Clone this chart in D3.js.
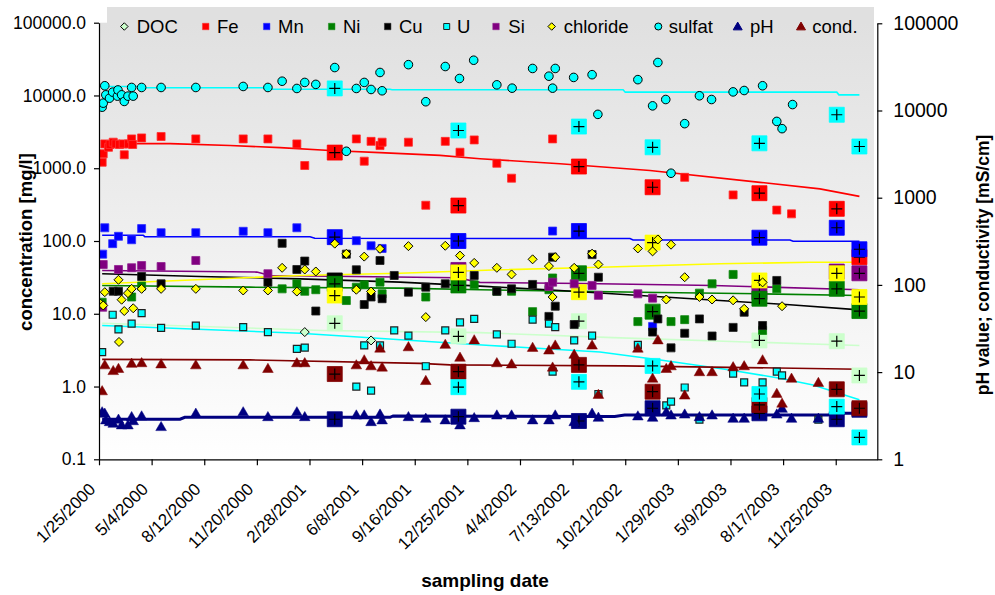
<!DOCTYPE html>
<html>
<head>
<meta charset="utf-8">
<script src="https://cdn.jsdelivr.net/npm/d3@7"></script>
<style>
  body { margin: 0; background: #fff; }
  svg { display: block; font-family: "Liberation Sans", Arial, Helvetica, sans-serif; }
</style>
</head>
<body>
<svg id="chart" width="995" height="595"></svg>
<script>
// ---------- tick labels ----------
const xTickLabels = ["1/25/2000","5/4/2000","8/12/2000","11/20/2000","2/28/2001","6/8/2001","9/16/2001",
  "12/25/2001","4/4/2002","7/13/2002","10/21/2002","1/29/2003","5/9/2003","8/17/2003","11/25/2003"];
const leftTicks = [0.1, 1, 10, 100, 1000, 10000, 100000];
const rightTicks = [1, 10, 100, 1000, 10000, 100000];
const legendNames = ["DOC","Fe","Mn","Ni","Cu","U","Si","chloride","sulfat","pH","cond."];

// ---------- monitoring well samples [date, value] ----------
const DOC = [["2001-02-19",5.6],["2001-06-25",4.3]];
const Fe = [["2000-01-31",1210],["2000-02-02",1580],["2000-02-05",2160],["2000-02-12",1940],["2000-02-15",2120],
  ["2000-02-21",2280],["2000-02-26",2160],["2000-03-04",2120],["2000-03-11",2160],["2000-03-13",1530],
  ["2000-03-21",2160],["2000-03-27",2530],["2000-03-29",2120],["2000-04-15",2610],["2000-05-22",2730],
  ["2000-07-27",2530],["2000-10-25",2530],["2000-12-11",2530],["2001-02-04",2160],["2001-02-19",1090],
  ["2001-05-28",2530],["2001-06-12",1250],["2001-06-25",2340],["2001-07-12",2050],["2001-07-16",2280],
  ["2001-09-04",2280],["2001-10-07",310],["2001-11-13",2340],["2001-12-11",1660],["2002-01-07",2450],
  ["2002-02-19",1170],["2002-03-19",730],["2002-06-05",2530],["2003-02-11",750],["2003-05-14",430],
  ["2003-08-05",266],["2003-09-02",236]];
const Mn = [["2000-02-01",66],["2000-02-05",152],["2000-02-20",92],["2000-03-02",116],["2000-03-27",104],
  ["2000-04-15",148],["2000-05-22",130],["2000-07-27",130],["2000-10-25",136],["2000-12-11",130],
  ["2001-02-04",152],["2001-05-28",101],["2001-06-25",86],["2001-07-16",79],["2002-06-05",137],["2002-12-12",6.7]];
const Ni = [["2000-01-31",14.4],["2000-03-27",17],["2000-04-15",24],["2001-01-07",22],["2001-02-04",25.8],
  ["2001-02-19",20.4],["2001-03-12",21.4],["2001-05-09",15.2],["2001-05-28",23.2],["2001-06-12",25],
  ["2001-07-12",27.2],["2001-07-16",18.8],["2001-10-07",17],["2002-01-07",25],["2002-02-19",20.4],
  ["2002-03-19",20.4],["2002-04-28",10.7],["2002-05-29",21.4],["2002-06-05",31],["2002-11-14",7.8],
  ["2003-01-16",7.8],["2003-02-11",8.3],["2003-03-11",19.2],["2003-04-04",25.8],["2003-05-14",34.7],
  ["2003-07-09",5.9],["2003-08-05",22]];
const Cu = [["2000-02-21",20.4],["2000-03-02",20.4],["2000-04-15",32.5],["2000-05-22",25.8],["2000-12-11",27.2],
  ["2001-01-07",93],["2001-02-04",40.6],["2001-02-19",53],["2001-03-12",10.9],["2001-05-09",66],
  ["2001-05-28",40.2],["2001-06-12",13.4],["2001-06-25",17],["2001-07-12",54],["2001-07-16",16.1],
  ["2001-08-08",33.6],["2001-09-04",19.8],["2001-10-07",23.2],["2001-11-13",25.8],["2002-01-07",33.6],
  ["2002-02-19",20.4],["2002-03-19",22],["2002-04-28",25.3],["2002-05-29",9.2],["2002-06-05",60],
  ["2002-06-10",12.7],["2002-07-16",7.1],["2002-08-19",65],["2002-08-31",31.8],["2002-12-12",5.6],
  ["2002-12-22",8.5],["2003-01-16",3.4],["2003-02-11",5.4],["2003-03-11",8.5],["2003-04-04",4.95],
  ["2003-05-14",6.5],["2003-06-04",10.5],["2003-07-09",6.9],["2003-08-05",28.7]];
const U = [["2000-01-31",2.97],["2000-02-20",9.7],["2000-03-02",6.1],["2000-03-27",7.3],["2000-04-15",10.2],
  ["2000-05-22",6.4],["2000-07-27",6.85],["2000-10-25",6.55],["2000-12-11",5.6],["2001-02-04",3.3],
  ["2001-02-19",3.43],["2001-05-28",1.0],["2001-06-12",3.67],["2001-06-25",0.88],["2001-07-12",3.67],
  ["2001-08-08",5.9],["2001-09-04",5.0],["2001-10-07",1.9],["2001-11-13",5.9],["2001-12-11",7.6],
  ["2002-01-07",8.5],["2002-02-19",5.2],["2002-03-19",3.87],["2002-04-28",8.3],["2002-05-29",7.3],
  ["2002-06-05",1.6],["2002-06-10",6.55],["2002-07-16",4.3],["2002-08-19",5.0],["2002-08-31",0.79],
  ["2002-11-14",3.74],["2003-01-07",0.55],["2003-01-16",0.62],["2003-02-11",0.97],["2003-03-11",0.35],
  ["2003-05-14",1.5],["2003-06-04",1.14],["2003-07-09",1.14],["2003-08-05",1.6],["2003-08-15",1.42],
  ["2003-10-23",0.35]];
const Si = [["2000-02-01",12.3],["2000-02-02",47.5],["2000-03-02",40.6],["2000-03-27",42.9],["2000-04-15",46],
  ["2000-05-22",44.6],["2000-07-27",54],["2000-12-11",35.5],["2002-05-29",23.7],["2002-06-05",27.2],
  ["2002-07-16",25.8],["2002-08-19",24.5],["2002-08-31",17.9],["2002-11-14",18.8],["2002-12-12",16.4]];
const chloride = [["2000-01-28",13.7],["2000-02-02",13],["2000-02-05",19.8],["2000-03-02",29.3],["2000-03-03",4.1],
  ["2000-03-08",15.6],["2000-03-13",10.9],["2000-03-20",19.2],["2000-03-27",22],["2000-03-30",11.9],
  ["2000-04-15",22],["2000-05-22",22],["2000-07-27",22],["2000-10-25",20.9],["2000-12-11",20.9],
  ["2001-01-07",42.8],["2001-02-04",20.2],["2001-02-19",40.6],["2001-03-12",38.1],["2001-04-17",92],
  ["2001-05-09",66.6],["2001-05-28",21.4],["2001-06-12",61],["2001-06-25",20.2],["2001-07-12",78],
  ["2001-09-04",85],["2001-10-07",9],["2001-11-13",86],["2001-12-11",63],["2002-01-07",50],
  ["2002-02-19",42.8],["2002-03-19",34.7],["2002-04-28",56],["2002-05-29",45.2],["2002-06-05",17],
  ["2002-06-10",60],["2002-07-16",42.8],["2002-08-19",67],["2002-08-31",47.6],["2002-11-14",79],
  ["2002-12-12",72],["2002-12-22",105],["2003-01-07",15.7],["2003-01-16",89],["2003-02-11",31.8],
  ["2003-03-11",17],["2003-04-04",15.7],["2003-05-14",15.3],["2003-06-04",11.7],["2003-07-09",27],
  ["2003-08-15",12.7]];
const sulfat = [["2000-01-31",6900],["2000-02-02",7840],["2000-02-05",13600],["2000-02-07",10200],["2000-02-14",9180],
  ["2000-02-20",11100],["2000-02-29",9790],["2000-03-01",11900],["2000-03-08",10200],["2000-03-13",8280],
  ["2000-03-20",9790],["2000-03-27",12880],["2000-03-30",9790],["2000-04-15",12880],["2000-05-22",12880],
  ["2000-07-27",12880],["2000-10-25",13300],["2000-12-11",12880],["2001-01-07",15700],["2001-02-04",12480],
  ["2001-02-19",15100],["2001-03-12",14200],["2001-04-17",24200],["2001-05-09",1710],["2001-05-28",12480],
  ["2001-06-12",15100],["2001-06-25",12090],["2001-07-12",20700],["2001-07-16",11600],["2001-09-04",26500],
  ["2001-10-07",8200],["2001-11-13",25000],["2001-12-10",17100],["2002-01-06",30500],["2002-02-19",14000],
  ["2002-03-20",12600],["2002-04-28",23500],["2002-05-29",18400],["2002-06-05",12600],["2002-06-10",23500],
  ["2002-07-15",17700],["2002-08-19",19300],["2002-08-30",5500],["2002-11-14",16500],["2002-12-12",7200],
  ["2002-12-22",28400],["2003-01-06",8800],["2003-01-16",854],["2003-02-11",4100],["2003-03-11",9900],
  ["2003-04-03",8800],["2003-05-14",11200],["2003-06-04",11700],["2003-07-09",13600],["2003-08-05",4400],
  ["2003-08-15",3500],["2003-09-04",7500]];
const pH = [["2000-01-31",3.5],["2000-02-05",3.37],["2000-02-07",2.83],["2000-02-14",2.7],["2000-02-21",2.59],
  ["2000-03-02",2.88],["2000-03-08",2.48],["2000-03-20",2.48],["2000-03-27",3.08],["2000-03-30",2.77],
  ["2000-04-15",3.14],["2000-05-22",2.37],["2000-07-27",3.37],["2000-10-25",3.5],["2000-12-11",3.08],
  ["2001-02-04",3.5],["2001-02-19",3.08],["2001-05-28",3.22],["2001-06-12",3.22],["2001-06-25",2.7],
  ["2001-07-12",3.3],["2001-07-16",2.83],["2001-09-04",3.08],["2001-10-07",2.95],["2001-11-13",2.83],
  ["2001-12-11",2.48],["2002-01-07",3.0],["2002-02-19",3.22],["2002-03-19",3.22],["2002-04-28",2.83],
  ["2002-05-29",2.83],["2002-06-10",3.22],["2002-07-16",2.7],["2002-08-19",3.37],["2002-08-31",3.03],
  ["2002-11-14",3.14],["2002-12-12",3.03],["2003-01-07",3.5],["2003-01-16",3.22],["2003-02-11",3.3],
  ["2003-03-11",3.08],["2003-04-04",3.22],["2003-05-14",2.95],["2003-06-04",2.95],["2003-08-05",3.3],
  ["2003-08-15",3.84],["2003-09-02",2.95],["2003-10-23",2.95]];
const cond = [["2000-01-31",6.1],["2000-02-05",12.1],["2000-02-21",10.4],["2000-03-02",11.0],["2000-03-27",12.6],
  ["2000-04-15",12.8],["2000-05-22",12.4],["2000-07-27",12.1],["2000-10-25",12.1],["2000-12-11",11.0],
  ["2001-02-04",12.8],["2001-02-19",12.8],["2001-05-28",12.1],["2001-06-12",13.8],["2001-06-25",11.8],
  ["2001-07-12",18.8],["2001-07-16",11.4],["2001-09-04",19.5],["2001-10-07",8.0],["2001-11-13",20.8],
  ["2001-12-11",14.8],["2002-01-07",23.4],["2002-02-19",12.8],["2002-03-19",12.4],["2002-04-28",19.2],
  ["2002-05-29",17.9],["2002-06-05",11.4],["2002-06-10",20.4],["2002-07-16",16],["2002-08-19",20.4],
  ["2002-08-31",5.55],["2002-11-14",18.8],["2002-12-12",8.5],["2002-12-22",23.4],["2003-01-07",11],
  ["2003-01-16",11.8],["2003-02-11",5.45],["2003-03-11",10.1],["2003-04-04",10.1],["2003-05-14",11.5],
  ["2003-06-04",11.8],["2003-07-09",13.8],["2003-08-05",5.7],["2003-08-15",4.4],["2003-09-02",8.5],
  ["2003-10-23",7.6]];

// ---------- reference well campaigns (large marked squares) ----------
const campaignDates = ["2001-04-17","2001-12-08","2002-07-25","2002-12-12","2003-07-03","2003-11-27","2004-01-09"];
const campSulfat   = [12500, 3300, 3740, 1940, 2200, 5430, 1990];
const campFe       = [1640, 307, 1055, 548, 454, 277, 60];
const campMn       = [113, 100, 137, null, 111, 152, 77];
const campSi       = [null, 40, null, null, 19.8, 38, 36];
const campCu       = [28.7, null, null, null, null, null, null];
const campNi       = [25.8, 24.5, 36, 10.7, 16.1, 22, 10.9];
const campChloride = [17.8, 37, 19.8, 95, 28.7, 36, 17];
const campPH       = [2.88, 3.08, 2.75, 3.85, 3.37, 2.88, 3.7];
const campCond     = [9.5, 10.1, 12.1, 5.96, 4.2, 6.35, 3.85];
const campU        = [null, 0.98, 1.16, 1.92, 0.79, 0.53, 0.2];
const campDOC      = [7.4, 4.9, 7.9, null, 4.3, 4.2, 1.42];

// ---------- moving trend lines [date, value] ----------
const trendSulfat = [["2000-02-01",13300],["2000-04-12",13300],["2000-04-16",12760],["2000-12-15",12760],
  ["2000-12-19",12200],["2001-07-31",12200],["2001-08-04",11970],["2002-10-17",11970],["2002-10-21",11100],
  ["2003-11-27",11100],["2003-12-01",10200],["2004-01-09",10200]];
const trendFe = [["2000-02-04",2180],["2000-06-08",2180],["2000-09-30",2050],["2001-01-03",1920],["2001-04-08",1750],
  ["2001-07-12",1640],["2001-11-03",1500],["2002-01-18",1350],["2002-06-19",1150],["2002-12-07",930],
  ["2003-07-04",640],["2003-10-26",520],["2004-01-09",410]];
const trendMn = [["2000-01-31",120],["2000-04-18",120],["2000-04-21",114.6],["2001-03-01",114.6],["2001-03-10",109],
  ["2002-10-30",108],["2002-11-05",103],["2003-08-30",103],["2003-09-05",99],["2004-01-09",99]];
const trendSi = [["2000-01-31",39.4],["2000-11-20",37.4],["2000-12-15",33.6],["2001-12-05",31.2],["2002-01-18",27],
  ["2002-08-01",26],["2003-04-06",24.5],["2004-01-09",21.4]];
const trendChloride = [["2000-01-31",25.8],["2001-02-10",33.6],["2001-08-19",36.1],["2002-02-25",40.2],
  ["2002-09-03",43.6],["2003-04-19",48.6],["2003-10-07",51],["2004-01-09",51]];
const trendCu = [["2000-01-31",35.5],["2000-08-04",32.5],["2001-02-10",30.2],["2001-08-19",27.2],["2002-01-18",24],
  ["2002-06-19",20.9],["2002-11-18",17.8],["2003-04-19",15.2],["2003-08-30",13.3],["2004-01-09",11.3]];
const trendNi = [["2000-01-31",24.5],["2000-11-07",23.2],["2001-08-19",22.5],["2002-01-18",21.4],
  ["2002-11-18",19.8],["2003-07-04",18.8],["2004-01-09",17.8]];
const trendDOC = [["2000-01-31",7.4],["2001-03-26",5.9],["2002-01-18",5.5],["2002-09-28",4.7],
  ["2003-06-09",4.1],["2004-01-09",3.67]];
const trendU = [["2000-01-31",6.9],["2001-02-10",5.4],["2002-02-06",3.67],["2002-09-03",2.98],["2002-12-30",2.3],
  ["2003-05-08",1.69],["2003-08-11",1.3],["2003-10-13",1.05],["2004-01-09",0.66]];
const trendCond = [["2000-01-31",14.0],["2000-11-07",13.8],["2001-09-26",12.6],["2001-11-22",12.1],
  ["2002-10-17",11.8],["2004-01-09",10.8]];
const trendPH = [["2000-01-31",2.88],["2000-06-27",2.88],["2000-07-06",3.03],["2001-07-31",3.03],["2001-08-06",3.14],
  ["2002-10-01",3.1],["2002-10-20",3.22],["2003-11-10",3.22],["2003-12-01",3.37],["2004-01-09",3.37]];

// ---------- geometry ----------
const parse = d3.timeParse("%Y-%m-%d");
const parseTick = d3.timeParse("%m/%d/%Y");
const X0 = 99, X1 = 877.3, YT = 22.7, YB = 459.3;

const x = d3.scaleTime().domain([parse("2000-01-25"), parse("2004-02-12")]).range([X0, X1]);
const yL = d3.scaleLog().domain([0.1, 100000]).range([YB, YT]);
const yR = d3.scaleLog().domain([1, 100000]).range([YB, 23.3]);

// ---------- marker shapes ----------
function shapePath(shape, s) {
  const h = s / 2;
  if (shape === "square") return `M${-h},${-h}h${s}v${s}h${-s}Z`;
  if (shape === "diamond") return `M0,${-h}L${h},0L0,${h}L${-h},0Z`;
  if (shape === "circle") return `M${-h},0a${h},${h} 0 1,0 ${s},0a${h},${h} 0 1,0 ${-s},0Z`;
  if (shape === "triangle") return `M0,${-s * 0.55}L${s * 0.56},${s * 0.42}L${-s * 0.56},${s * 0.42}Z`;
  return "";
}

const series = [
  { name: "DOC", data: DOC, axis: "L", shape: "diamond", size: 9, fill: "#ccffcc", stroke: "#000", sw: 1, trend: trendDOC, camp: campDOC, line: "#ccffcc" },
  { name: "Fe", data: Fe, axis: "L", shape: "square", size: 8, fill: "#ff0000", stroke: "#ff3030", sw: 0.8, trend: trendFe, camp: campFe, line: "#ff0000" },
  { name: "Mn", data: Mn, axis: "L", shape: "square", size: 8, fill: "#0000ff", stroke: "#3030ff", sw: 0.8, trend: trendMn, camp: campMn, line: "#0000ff" },
  { name: "Ni", data: Ni, axis: "L", shape: "square", size: 8, fill: "#008000", stroke: "#108810", sw: 0.8, trend: trendNi, camp: campNi, line: "#008000" },
  { name: "Cu", data: Cu, axis: "L", shape: "square", size: 8, fill: "#000000", stroke: "#202020", sw: 0.8, trend: trendCu, camp: campCu, line: "#000000" },
  { name: "U", data: U, axis: "L", shape: "square", size: 7, fill: "#00ffff", stroke: "#202020", sw: 1.2, trend: trendU, camp: campU, line: "#00ffff" },
  { name: "Si", data: Si, axis: "L", shape: "square", size: 8, fill: "#800080", stroke: "#902090", sw: 0.8, trend: trendSi, camp: campSi, line: "#800080" },
  { name: "chloride", data: chloride, axis: "L", shape: "diamond", size: 9, fill: "#ffff00", stroke: "#000", sw: 1, trend: trendChloride, camp: campChloride, line: "#ffff00" },
  { name: "sulfat", data: sulfat, axis: "L", shape: "circle", size: 8.6, fill: "#00ffff", stroke: "#000", sw: 1, trend: trendSulfat, camp: campSulfat, line: "#00ffff" },
  { name: "pH", data: pH, axis: "R", shape: "triangle", size: 9.5, fill: "#000080", stroke: "#000080", sw: 0.5, trend: trendPH, camp: campPH, line: "#000080", lw: 3 },
  { name: "cond.", data: cond, axis: "R", shape: "triangle", size: 9.5, fill: "#800000", stroke: "#800000", sw: 0.5, trend: trendCond, camp: campCond, line: "#800000" }
];
const byName = Object.fromEntries(series.map(s => [s.name, s]));
const yOf = s => (s.axis === "R" ? yR : yL);

// ---------- svg ----------
const svg = d3.select("#chart");
const defs = svg.append("defs");
const grad = defs.append("linearGradient").attr("id", "plotBg").attr("x1", 0).attr("y1", 0).attr("x2", 0).attr("y2", 1);
grad.append("stop").attr("offset", "0%").attr("stop-color", "#e0e0e0");
grad.append("stop").attr("offset", "85%").attr("stop-color", "#fafafa");
grad.append("stop").attr("offset", "100%").attr("stop-color", "#ffffff");
defs.append("clipPath").attr("id", "plotClip").append("rect")
  .attr("x", X0).attr("y", YT - 10).attr("width", X1 - X0).attr("height", YB - YT + 10);

// legend panel and plot background
svg.append("rect").attr("x", 107).attr("y", 7).attr("width", 767).attr("height", 20).attr("fill", "#e0e0e0");
svg.append("rect").attr("x", X0).attr("y", YT).attr("width", 874 - X0).attr("height", YB - YT).attr("fill", "url(#plotBg)");
svg.append("rect").attr("x", 107).attr("y", 20).attr("width", 767).attr("height", 4).attr("fill", "#e0e0e0");

const plot = svg.append("g").attr("clip-path", "url(#plotClip)");

// trend lines
const gLines = plot.append("g");
series.forEach(s => {
  const ys = yOf(s);
  const line = d3.line().x(d => x(parse(d[0]))).y(d => ys(d[1]));
  gLines.append("path").datum(s.trend).attr("d", line)
    .attr("fill", "none").attr("stroke", s.line).attr("stroke-width", s.lw || 1.6);
});

// campaign squares with cross marks
const campOrder = ["sulfat", "Fe", "Mn", "Si", "Cu", "Ni", "chloride", "pH", "cond.", "U", "DOC"];
const gCamp = plot.append("g");
campOrder.forEach(n => {
  const s = byName[n];
  const ys = yOf(s);
  const pts = campaignDates.map((d, i) => [d, s.camp[i]]).filter(p => p[1] != null);
  const g = gCamp.selectAll(null).data(pts).enter().append("g")
    .attr("transform", d => `translate(${x(parse(d[0]))},${ys(d[1])})`);
  g.append("path").attr("d", shapePath("square", 15)).attr("fill", s.fill)
    .attr("stroke", s.fill).attr("stroke-width", 0.8);
  g.append("path").attr("d", "M-5.5,0H5.5M0,-5.5V5.5").attr("stroke", "#000").attr("stroke-width", 1.2);
});

// sample markers
const gPts = plot.append("g");
series.forEach(s => {
  const ys = yOf(s);
  gPts.append("g").selectAll("path").data(s.data).enter().append("path")
    .attr("transform", d => `translate(${x(parse(d[0]))},${ys(d[1])})`)
    .attr("d", shapePath(s.shape, s.size))
    .attr("fill", s.fill).attr("stroke", s.stroke).attr("stroke-width", s.sw);
});

// ---------- axes ----------
const axL = svg.append("g").attr("transform", `translate(${X0},0)`)
  .call(d3.axisLeft(yL).tickValues(leftTicks).tickFormat(d3.format(".1f")).tickSize(5).tickPadding(8).tickSizeOuter(0));
axL.selectAll("text").attr("font-size", 17.5).attr("fill", "#000").attr("font-family", "Liberation Sans, Arial, sans-serif");

const axR = svg.append("g").attr("transform", `translate(${X1},0)`)
  .call(d3.axisRight(yR).tickValues(rightTicks).tickFormat(d3.format("d")).tickSize(5).tickPadding(11).tickSizeOuter(0));
axR.selectAll("text").attr("font-size", 19.5).attr("fill", "#000").attr("font-family", "Liberation Sans, Arial, sans-serif");

const xTicks = xTickLabels.map(parseTick);
const axB = svg.append("g").attr("transform", `translate(0,${YB})`)
  .call(d3.axisBottom(x).tickValues(xTicks).tickFormat((d, i) => xTickLabels[i]).tickSize(6).tickSizeOuter(0));
axB.selectAll("text")
  .attr("font-size", 17).attr("fill", "#000").attr("font-family", "Liberation Sans, Arial, sans-serif")
  .attr("text-anchor", "end").attr("y", 0).attr("dy", 0)
  .attr("transform", "translate(-3,31) rotate(-45)");

[axL, axR, axB].forEach(a => {
  a.selectAll("path.domain").attr("stroke", "#000").attr("stroke-width", 1.2);
  a.selectAll(".tick line").attr("stroke", "#000").attr("stroke-width", 1.2);
});

// ---------- axis titles ----------
svg.append("text").attr("transform", "translate(32,242) rotate(-90)").attr("text-anchor", "middle")
  .attr("font-size", 18.5).attr("font-weight", "bold").text("concentration [mg/l]");
svg.append("text").attr("transform", "translate(989,265) rotate(-90)").attr("text-anchor", "middle")
  .attr("font-size", 17.5).attr("font-weight", "bold").text("pH value; conductivity [mS/cm]");
svg.append("text").attr("x", 485).attr("y", 587).attr("text-anchor", "middle")
  .attr("font-size", 19).attr("font-weight", "bold").text("sampling date");

// ---------- legend ----------
const legendPos = [[124.3,136.7],[205.7,217],[266.7,278],[331.7,343],[387.7,399],[446.7,457],
  [496,508.3],[551.7,563.7],[658.3,668.7],[737.7,750],[801,812.3]];
const gLeg = svg.append("g");
legendNames.forEach((n, i) => {
  const s = byName[n];
  const [mx, tx] = legendPos[i];
  const sz = s.shape === "square" ? (n === "U" ? 6 : 6.5) : s.shape === "triangle" ? 8 : s.shape === "circle" ? 7 : 7.5;
  gLeg.append("path").attr("transform", `translate(${mx},26.5)`).attr("d", shapePath(s.shape, sz))
    .attr("fill", s.fill).attr("stroke", s.stroke).attr("stroke-width", s.shape === "square" && n !== "U" ? 0.5 : 1);
  gLeg.append("text").attr("x", tx).attr("y", 33.3).attr("font-size", 18.5).text(n);
});
</script>
</body>
</html>
